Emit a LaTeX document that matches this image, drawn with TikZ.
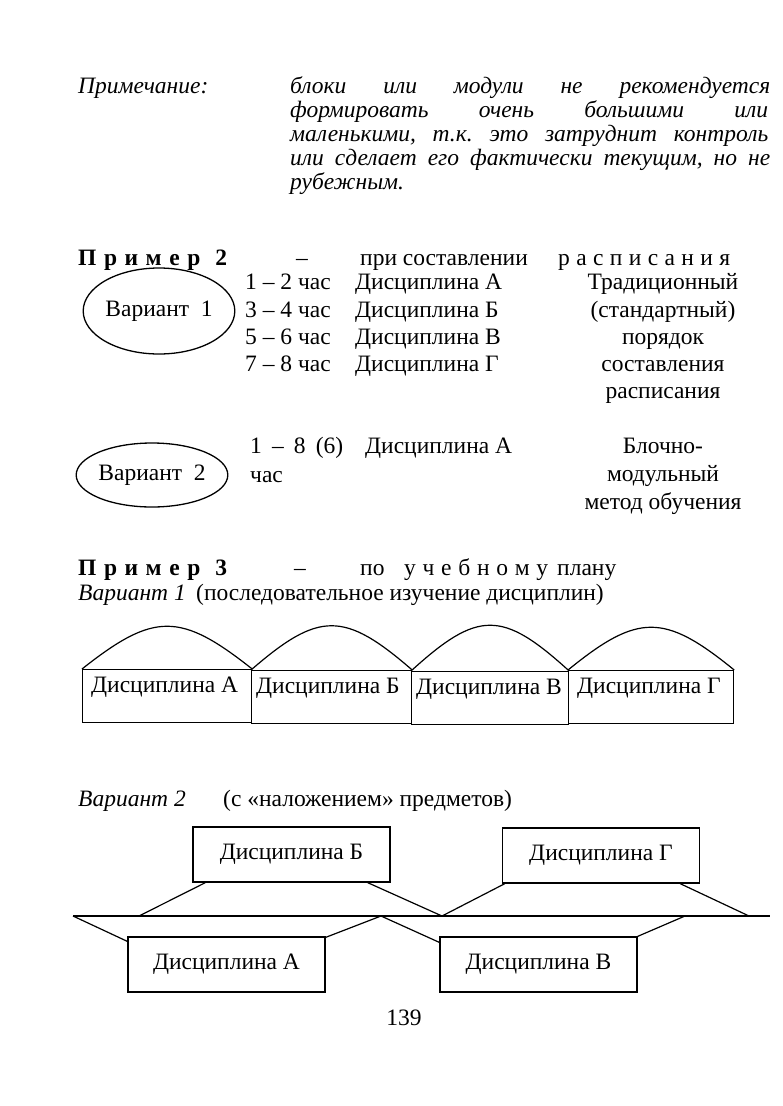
\documentclass[tikz,border=0pt]{standalone}
\usepackage{fontspec}
\setmainfont{Liberation Serif}
\usetikzlibrary{calc,shapes.geometric}
\newcommand\mysz{\fontsize{23.5}{27}\selectfont}
\begin{document}
\begin{tikzpicture}[x=1pt,y=-1pt,
  every node/.style={font=\mysz, inner sep=0pt},
  txt/.style={anchor=base west},
  ctr/.style={anchor=base},
  ln/.style={line width=1.2pt},
  oval/.style={ellipse, draw, line width=1.3pt},
  cell/.style={draw, ln, anchor=north west, minimum height=53pt},
  box/.style={draw, ln, minimum width=197pt, minimum height=55pt}]
\useasboundingbox (0,0) rectangle (783,1106);

% --- Note ---
\node[txt] (note) at (78,93) {\itshape Примечание:};
\node[txt] (p1) at (290,93) {\itshape\makebox[480pt]{блоки\hfill или\hfill модули\hfill не\hfill рекомендуется}};
\node[txt] (p2) at (290,117) {\itshape\makebox[478pt]{формировать\hfill очень\hfill большими\hfill или}};
\node[txt] (p3) at (290,141) {\itshape\makebox[478pt]{маленькими,\hfill т.к.\hfill это\hfill затруднит\hfill контроль}};
\node[txt] (p4) at (290,165) {\itshape\makebox[480pt]{или\hfill сделает\hfill его\hfill фактически\hfill текущим,\hfill но\hfill не}};
\node[txt] (p5) at (290,189) {\itshape рубежным.};

% --- Example 2 ---
\node[txt] (h2) at (78,265) {\bfseries\makebox[149pt]{П\hfill р\hfill и\hfill м\hfill е\hfill р\hfill\hfill 2}};
\node[txt] (d2) at (296,265) {–};
\node[txt] (s2) at (360,265) {при составлении};
\node[txt] (r2) at (558,265) {\makebox[172pt]{р\hfill а\hfill с\hfill п\hfill и\hfill с\hfill а\hfill н\hfill и\hfill я}};

\node[oval, minimum width=150pt, minimum height=86pt] (e1) at (159,311) {Вариант\ \ 1};
\node[txt] (t1) at (245,289) {1 – 2 час};
\node[txt] (t2) at (245,317) {3 – 4 час};
\node[txt] (t3) at (245,344) {5 – 6 час};
\node[txt] (t4) at (245,371) {7 – 8 час};
\node[txt] (a1) at (355,289) {Дисциплина А};
\node[txt] (a2) at (355,317) {Дисциплина Б};
\node[txt] (a3) at (355,344) {Дисциплина В};
\node[txt] (a4) at (355,371) {Дисциплина Г};
\node[ctr] (c1) at (663,289) {Традиционный};
\node[ctr] (c2) at (663,317) {(стандартный)};
\node[ctr] (c3) at (663,344) {порядок};
\node[ctr] (c4) at (663,371) {составления};
\node[ctr] (c5) at (663,398) {расписания};

\node[oval, minimum width=142pt, minimum height=64pt] (e2) at (152,475) {Вариант\ \ 2};
\node[txt] (u1) at (250,453) {\makebox[93pt]{1\hfill –\hfill 8\hfill (6)}};
\node[txt] (u2) at (365,453) {Дисциплина А};
\node[txt] (u3) at (250,482) {час};
\node[ctr] (b1) at (663,453) {Блочно-};
\node[ctr] (b2) at (663,481) {модульный};
\node[ctr] (b3) at (663,509) {метод обучения};

% --- Example 3 ---
\node[txt] (h3) at (78,575) {\bfseries\makebox[149pt]{П\hfill р\hfill и\hfill м\hfill е\hfill р\hfill\hfill 3}};
\node[txt] (d3) at (294,575) {–};
\node[txt] (w1) at (360,575) {по};
\node[txt] (w2) at (404,575) {\makebox[144pt]{у\hfill ч\hfill е\hfill б\hfill н\hfill о\hfill м\hfill у}};
\node[txt] (w3) at (557,575) {плану};
\node[txt] (v1) at (78,600) {\itshape Вариант 1};
\node[txt] (v1b) at (196,600) {(последовательное изучение дисциплин)};

\node[cell, minimum width=169pt] (rA) at (82,669) {};
\node[cell, minimum width=160pt] (rB) at (251,670) {};
\node[cell, minimum width=157pt] (rV) at (411,671) {};
\node[cell, minimum width=165pt] (rG) at (568,670) {};
\node[txt] (tA) at ($(rA.north west)+(9,23)$) {Дисциплина А};
\node[txt] (tB) at ($(rB.north west)+(5,23)$) {Дисциплина Б};
\node[txt] (tV) at ($(rV.north west)+(5,23)$) {Дисциплина В};
\node[txt] (tG) at ($(rG.north west)+(9,23)$) {Дисциплина Г};
\draw[ln] (rA.north west) .. controls +(72,-57) and +(-72,-57) .. (rA.north east);
\draw[ln] (rB.north west) .. controls +(68,-59) and +(-68,-59) .. (rB.north east);
\draw[ln] (rV.north west) .. controls +(67,-61) and +(-67,-61) .. (rV.north east);
\draw[ln] (rG.north west) .. controls +(70,-57) and +(-70,-57) .. (rG.north east);

% --- Variant 2 ---
\node[txt] (v2) at (78,806) {\itshape Вариант 2};
\node[txt] (v2b) at (223,806) {(с «наложением» предметов)};

\node[box] (bB) at (291.5,854.5) {Дисциплина Б};
\node[box] (bG) at (601,855.5) {Дисциплина Г};
\node[box] (bA) at (226.5,964.5) {Дисциплина А};
\node[box] (bV) at (538.5,964.5) {Дисциплина В};

\coordinate (L) at (73,916);
\coordinate (R) at (770,916);
\coordinate (m1) at (139,916);
\coordinate (m2) at (442,916);
\coordinate (m3) at (749,916);
\coordinate (q1) at (381,916);
\coordinate (q2) at (685,916);
\draw[ln] (L) -- (R);
\draw[ln] ($(bB.south west)+(13,0)$) -- (m1);
\draw[ln] ($(bB.south east)+(-23,0)$) -- (m2);
\draw[ln] ($(bG.south west)+(3,0)$) -- (m2);
\draw[ln] ($(bG.south east)+(-20,0)$) -- (m3);
\draw[ln] (L) -- ($(bA.north west)+(0,5)$);
\draw[ln] ($(bA.north east)+(0,1)$) -- (q1);
\draw[ln] (q1) -- ($(bV.north west)+(0,6)$);
\draw[ln] (bV.north east) -- (q2);

\node[ctr] (pg) at (404,1025) {139};
\end{tikzpicture}
\end{document}
